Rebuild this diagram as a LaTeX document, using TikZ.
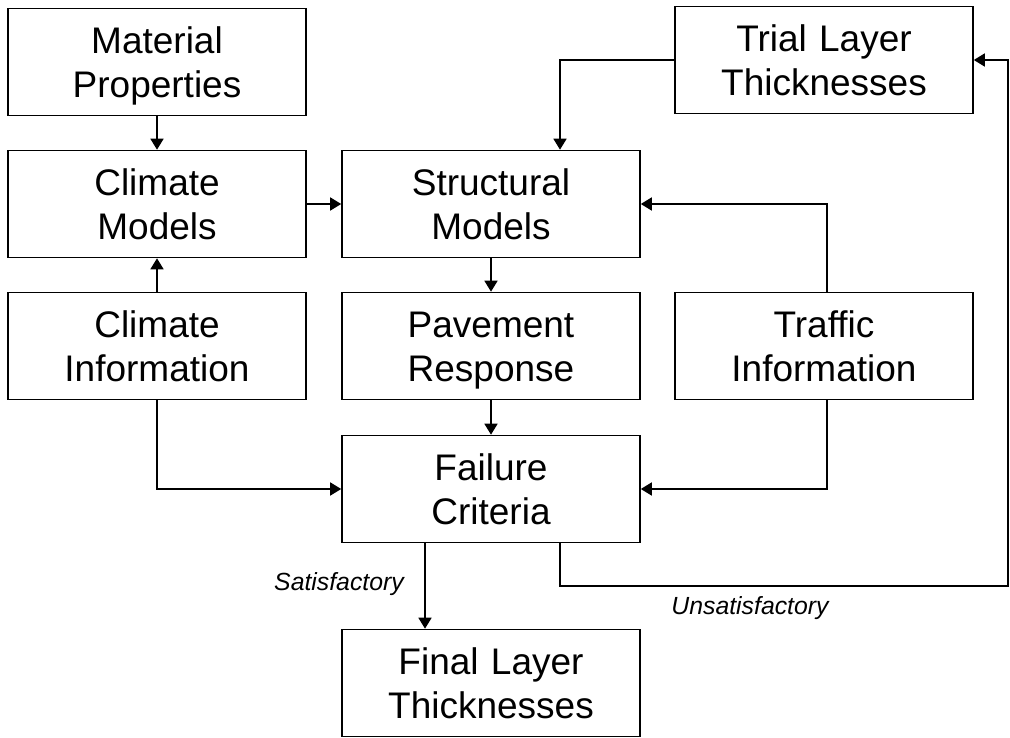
\documentclass[tikz,border=0pt]{standalone}
\usepackage{fontspec}
\setmainfont{Liberation Sans}
\usetikzlibrary{arrows.meta}

\tikzset{
  blockbox/.style={draw=black, line width=1.6pt, fill=white, align=center,
    text width=280pt, minimum width=298pt, minimum height=107pt, inner sep=0pt,
    font=\fontsize{37}{44}\selectfont,
    execute at begin node={\rule{0pt}{35pt}}, execute at end node={\vphantom{p}}},
  flowline/.style={draw=black, line width=1.6pt, -{Triangle[length=11pt,width=13pt]}},
  branchlabel/.style={font=\fontsize{24.8}{30}\selectfont\itshape, inner sep=0pt}
}

\begin{document}
\begin{tikzpicture}[x=1pt, y=-1pt]
      \useasboundingbox (0,0) rectangle (1010,738);
      % boxes
      \node [blockbox] (mat)   at (157,62)  {Material\\Properties};
      \node [blockbox] (clm)   at (157,204) {Climate\\Models};
      \node [blockbox] (cli)   at (157,346) {Climate\\Information};
      \node [blockbox] (str)   at (491,204) {Structural\\Models};
      \node [blockbox] (pav)   at (491,346) {Pavement\\Response};
      \node [blockbox] (fail)  at (491,489) {Failure\\Criteria};
      \node [blockbox] (fin)   at (491,683) {Final Layer\\Thicknesses};
      \node [blockbox] (trial) at (824,60)  {Trial Layer\\Thicknesses};
      \node [blockbox] (traf)  at (824,346) {Traffic\\Information};
      \coordinate (ret) at (1008,586);
      % connectors
      \draw [flowline] (mat.south) -- (clm.north);
      \draw [flowline] (cli.north) -- (clm.south);
      \draw [flowline] (clm.east) -- (str.west);
      \draw [flowline] (trial.west) -| ([xshift=69pt]str.north);
      \draw [flowline] ([xshift=3pt]traf.north) |- (str.east);
      \draw [flowline] (str.south) -- (pav.north);
      \draw [flowline] (pav.south) -- (fail.north);
      \draw [flowline] (cli.south) |- (fail.west);
      \draw [flowline] ([xshift=3pt]traf.south) |- (fail.east);
      \draw [flowline] ([xshift=-66pt]fail.south) -- ([xshift=-66pt]fin.north);
      \draw [flowline] ([xshift=69pt]fail.south) |- (ret) |- (trial.east);
      % labels
      \node [branchlabel] (sat)   at (339,584) {Satisfactory};
      \node [branchlabel] (unsat) at (750,608) {Unsatisfactory};
\end{tikzpicture}
\end{document}
